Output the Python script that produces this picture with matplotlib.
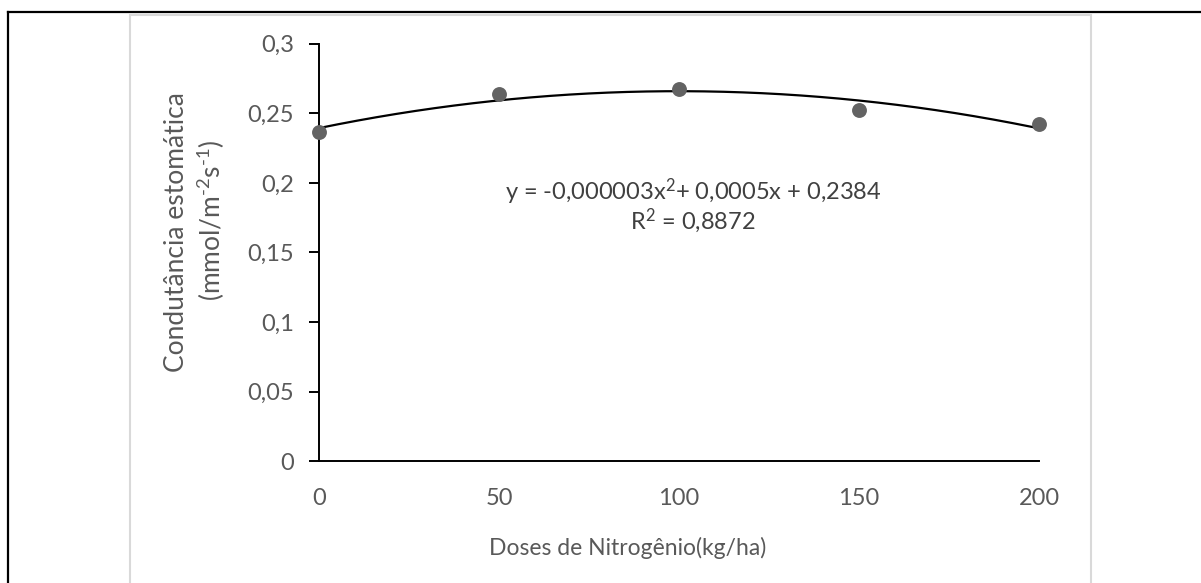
import numpy as np
import matplotlib
matplotlib.use("Agg")
import matplotlib.pyplot as plt
from matplotlib.patches import Rectangle
from matplotlib.lines import Line2D

# Nitrogen doses (kg/ha) and measured stomatal conductance
doses = [0, 50, 100, 150, 200]
conductance = [0.2368, 0.2639, 0.2675, 0.2524, 0.2423]

x_ticks = [0, 50, 100, 150, 200]
y_ticks = [0, 0.05, 0.1, 0.15, 0.2, 0.25, 0.3]
y_tick_labels = ["0", "0,05", "0,1", "0,15", "0,2", "0,25", "0,3"]

equation_line_1 = "y = -0,000003x$^2$+ 0,0005x + 0,2384"
equation_line_2 = "R$^2$ = 0,8872"
x_title = "Doses de Nitrogênio(kg/ha)"
y_title_1 = "Condutância estomática"
y_title_2 = "(mmol/m$^{\u2010 2}$s$^{\u2010 1}$)"

plt.rcParams["font.family"] = ["Lato", "DejaVu Sans"]
plt.rcParams["mathtext.fontset"] = "custom"
plt.rcParams["mathtext.rm"] = "Lato"
plt.rcParams["mathtext.it"] = "Lato"

W, H = 1201, 583
fig = plt.figure(figsize=(W / 100, H / 100), dpi=100)

# cell border and chart-area frame
fig.add_artist(Line2D([8 / W, 8 / W], [0, 1 - 12 / H], color="black", lw=1.6,
                      transform=fig.transFigure))
fig.add_artist(Line2D([8 / W, 1], [1 - 12 / H, 1 - 12 / H], color="black", lw=1.6,
                      transform=fig.transFigure))
fig.add_artist(Rectangle((130 / W, -0.05), (1091 - 130) / W, 1.05 - 15 / H,
                         fill=False, ec="#d9d9d9", lw=1.5, transform=fig.transFigure))

ax = fig.add_axes([319 / W, (H - 461.3) / H, (1039 - 319) / W, (461.3 - 43.7) / H])

# quadratic trend line fitted to the points
coef = np.polyfit(doses, conductance, 2)
xs = np.linspace(0, 200, 300)
ax.plot(xs, np.polyval(coef, xs), color="black", lw=1.6, zorder=2)
ax.scatter(doses, conductance, s=115, color="#636363", zorder=3, clip_on=False,
           linewidths=0)

ax.set_xlim(0, 200)
ax.set_ylim(0, 0.3)
ax.set_xticks(x_ticks)
ax.set_xticklabels([str(v) for v in x_ticks])
ax.set_yticks(y_ticks)
ax.set_yticklabels(y_tick_labels)
ax.tick_params(axis="x", length=0, pad=19, labelsize=17, labelcolor="#595959")
ax.tick_params(axis="y", length=7, width=1.4, color="black", pad=11,
               labelsize=17, labelcolor="#595959")
for side in ("top", "right"):
    ax.spines[side].set_visible(False)
for side in ("left", "bottom"):
    ax.spines[side].set_linewidth(1.4)
    ax.spines[side].set_color("black")

fig.text(693 / W, 1 - 192 / H, equation_line_1, ha="center", va="center",
         fontsize=17, color="#404040")
fig.text(693 / W, 1 - 221 / H, equation_line_2, ha="center", va="center",
         fontsize=17, color="#404040")

fig.text(628 / W, 1 - 548 / H, x_title, ha="center", va="center",
         fontsize=16.5, color="#595959")
fig.text(176 / W, 1 - 232 / H, y_title_1, ha="center", va="center",
         rotation=90, fontsize=19, color="#595959")
fig.text(211 / W, 1 - 220 / H, y_title_2, ha="center", va="center",
         rotation=90, fontsize=19, color="#595959")

fig.savefig("out.png", dpi=100)
